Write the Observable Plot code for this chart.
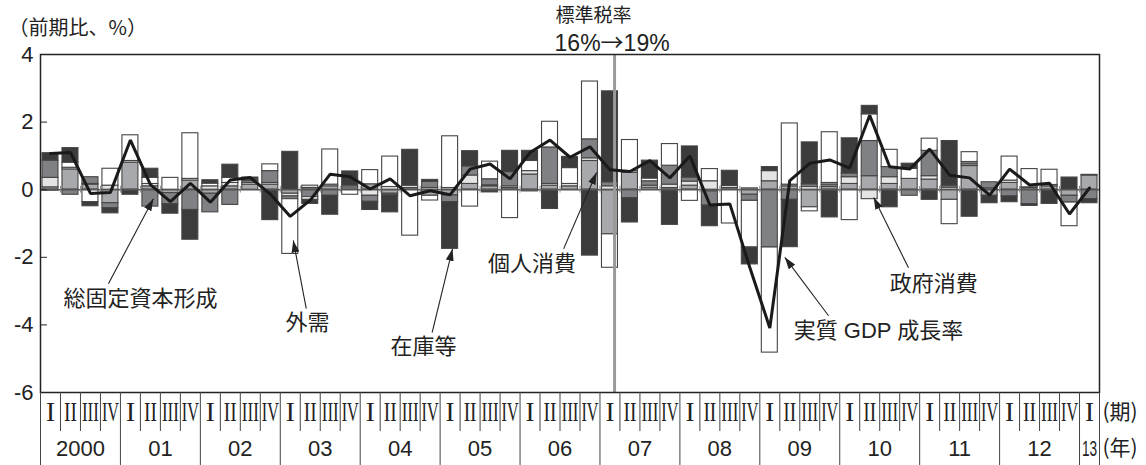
<!DOCTYPE html>
<html>
<head>
<meta charset="utf-8">
<script src="https://cdn.jsdelivr.net/npm/d3@7"></script>
<script src="https://cdn.jsdelivr.net/npm/@observablehq/plot@0.6"></script>
<style>
  html, body { margin: 0; padding: 0; background: #fff; }
</style>
</head>
<body>
<script>
// Real GDP growth (q/q, %) and contributions by demand component, 2000 Q1 – 2013 Q1
const years = ["2000", "01", "02", "03", "04", "05", "06", "07", "08", "09", "10", "11", "12", "13"];
const quarterLabels = ["I", "II", "III", "IV"];
const components = ["個人消費", "政府消費", "総固定資本形成", "外需", "在庫等"];
const componentColors = ["#a8a9ac", "#e4e4e4", "#808184", "#ffffff", "#3c3c3c"];

const privateConsumption = [
  0.07, 0.60, 0.15, -0.40, 0.80, 0.10, -0.10, 0.27, -0.12, 0.10, 0.15, 0.15, -0.12,
  0.05, 0.10, 0.07, 0.16, -0.12, 0.05, -0.18, -0.17, 0.17, 0.10, 0.05, 0.45, 0.12,
  0.10, 0.85, -1.32, 0.50, 0.06, 0.05, 0.12, -0.05, 0.05, -0.15, 0.25, 0.10, -0.52,
  0.08, 0.17, 0.40, 0.17, 0.32, 0.30, -0.30, 0.70, -0.18, 0.20, 0.05, 0.10, -0.18, 0.42
];
const governmentConsumption = [
  0.28, 0.05, 0.02, 0.12, 0.05, 0.07, 0.00, 0.05, 0.10, 0.10, 0.05, 0.05, -0.08,
  0.07, 0.05, 0.05, -0.18, 0.08, 0.07, 0.05, 0.05, 0.25, 0.03, 0.05, 0.10, 0.05,
  0.07, 0.08, 0.10, 0.05, 0.06, 0.10, 0.12, 0.25, 0.06, 0.04, 0.30, 0.05, 0.08,
  0.05, 0.20, -0.28, 0.20, 0.00, 0.10, 0.06, 0.05, 0.04, 0.07, 0.02, 0.04, 0.00, 0.02
];
const fixedInvestment = [
  0.51, -0.15, 0.20, -0.15, 0.00, -0.50, -0.33, -0.60, -0.55, -0.45, 0.06, 0.35, -0.08,
  -0.22, -0.18, 0.00, -0.18, -0.05, 0.00, 0.18, -0.20, 0.27, 0.18, 0.42, -0.05, 1.08,
  0.00, 0.56, 0.12, -0.25, 0.13, 0.56, 0.12, -0.42, 0.00, -0.18, -1.71, -0.30, 0.08,
  0.07, 0.11, 1.04, 0.30, -0.18, 0.75, 0.06, 0.07, 0.18, -0.20, -0.43, 0.00, -0.20, -0.28
];
const netExports = [
  -0.03, 0.15, -0.37, 0.50, 0.76, 0.18, 0.35, 1.35, 0.08, 0.15, 0.04, 0.20, -1.62,
  -0.08, 1.04, -0.15, 0.42, 0.90, -1.36, -0.14, 1.53, -0.50, 0.52, -0.84, 0.30, 0.76,
  0.47, 1.71, -0.99, 0.92, 0.08, 0.64, -0.33, 0.36, -1.00, -1.38, -3.11, 1.81, -0.12,
  1.50, -0.90, 0.79, 0.51, 0.30, 0.36, -0.72, 0.29, 0.00, 0.71, 0.54, 0.45, -0.70, 0.00
];
const inventories = [
  0.22, 0.43, -0.12, -0.15, -0.15, 0.27, -0.28, -0.88, 0.10, 0.39, 0.06, -0.90, 1.12,
  -0.12, -0.56, 0.42, -0.24, -0.50, 1.06, 0.06, -1.38, 0.45, -0.08, 0.63, 0.30, -0.57,
  0.33, -1.95, 2.69, -0.72, 0.53, -1.04, 0.92, -0.61, 0.45, -0.50, 0.12, -1.40, 1.24,
  -0.82, 1.04, 0.25, -0.52, 0.15, -0.30, 1.32, -0.80, -0.22, -0.17, -0.05, -0.42, 0.36, -0.12
];
const gdpGrowth = [
  1.07, 1.10, -0.11, -0.08, 1.47, 0.15, -0.35, 0.19, -0.37, 0.29, 0.36, -0.13, -0.79,
  -0.31, 0.46, 0.38, 0.02, 0.32, -0.18, -0.03, -0.15, 0.61, 0.76, 0.32, 1.10, 1.47,
  0.96, 1.27, 0.59, 0.54, 0.86, 0.35, 1.00, -0.45, -0.42, -2.30, -4.09, 0.27, 0.78,
  0.88, 0.64, 2.20, 0.68, 0.61, 1.20, 0.43, 0.35, -0.16, 0.61, 0.14, 0.19, -0.72, 0.05
];
const yTicks = [-6, -4, -2, 0, 2, 4];

// VAT change (standard rate 16% -> 19%), position on the quarter axis
const taxChange = {x: 28.73, title: "標準税率", rates: "16%→19%"};

// Callout labels: label position, line start, arrow tip (quarter axis / %)
const callouts = [
  {label: "総固定資本形成", lx: 5.0, ly: -3.22, tx: 3.4, ty: -2.78, hx: 5.65, hy: -0.27},
  {label: "外需", lx: 13.36, ly: -3.93, tx: 13.3, ty: -3.52, hx: 12.65, hy: -1.5},
  {label: "在庫等", lx: 19.17, ly: -4.64, tx: 19.6, ty: -4.23, hx: 20.62, hy: -1.75},
  {label: "個人消費", lx: 24.6, ly: -2.19, tx: 26.18, ty: -1.75, hx: 27.83, hy: 0.51},
  {label: "政府消費", lx: 44.7, ly: -2.78, tx: 43.44, ty: -2.31, hx: 41.7, hy: -0.23},
  {label: "実質 GDP 成長率", lx: 41.94, ly: -4.17, tx: 39.44, ty: -3.73, hx: 37.25, hy: -2.0}
];

const series = [privateConsumption, governmentConsumption, fixedInvestment, netExports, inventories];
const nQ = gdpGrowth.length;

const quarters = d3.range(nQ).map(i => ({i, q: quarterLabels[i % 4]}));
const stacked = [];
quarters.forEach(({i}) => {
  components.forEach((c, k) => {
    const v = series[k][i];
    if (v !== 0) stacked.push({i, component: c, value: v});
  });
});
const growth = quarters.map(({i}) => ({i, value: gdpGrowth[i]}));
const yearCells = years.map((label, k) => ({label, start: 4 * k, end: Math.min(4 * k + 4, nQ)}));
const yearBounds = [...yearCells.map(d => d.start), nQ];
const quarterBounds = d3.range(1, nQ).filter(b => b % 4 !== 0);

const font = "'Liberation Sans', 'Noto Sans CJK JP', sans-serif";
const cjk = "'Noto Sans CJK JP', sans-serif";
const serif = "'Liberation Serif', 'DejaVu Serif', serif";

const chart = Plot.plot({
  width: 1146,
  height: 465,
  marginLeft: 40,
  marginRight: 47,
  marginTop: 54,
  marginBottom: 73,
  style: {fontFamily: font, color: "#222", background: "#fff"},
  x: {type: "linear", domain: [0, nQ], axis: null},
  y: {domain: [-6, 4], axis: null},
  color: {domain: components, range: componentColors},
  marks: [
    // stacked contribution bars
    Plot.rectY(stacked, {
      x1: d => d.i, x2: d => d.i + 1, y: "value",
      fill: "component", order: components,
      stroke: "#454545", strokeWidth: 1.1,
      insetLeft: 2, insetRight: 2
    }),
    // zero line with quarter marks
    Plot.ruleY([0], {stroke: "#555", strokeWidth: 1.6}),
    Plot.ruleX(d3.range(1, nQ), {y1: -0.1, y2: 0.1, stroke: "#8a8a8a", strokeWidth: 1}),
    // VAT change marker
    Plot.ruleX([taxChange], {x: "x", y1: -6, y2: 4, stroke: "#9a9a9a", strokeWidth: 3}),
    Plot.text([taxChange], {
      x: "x", y: 4, text: "title", textAnchor: "start",
      dx: -59, dy: -39, fontSize: 19, fontFamily: cjk, fill: "#222"
    }),
    Plot.text([taxChange], {
      x: "x", y: 4, text: "rates", textAnchor: "start",
      dx: -60, dy: -11, fontSize: 23, fill: "#222"
    }),
    // GDP growth line
    Plot.line(growth, {x: d => d.i + 0.5, y: "value", stroke: "#1a1a1a", strokeWidth: 3, strokeLinejoin: "miter"}),
    // frame and y axis
    Plot.frame({stroke: "#222", strokeWidth: 1.5}),
    Plot.axisY(yTicks, {
      anchor: "left", tickSize: -7, tickPadding: 14,
      tickFormat: d => String(d), fontSize: 22, label: null
    }),
    Plot.text(["（前期比、%）"], {
      frameAnchor: "top-left", textAnchor: "start",
      dx: -32, dy: -34, fontSize: 20, fontFamily: cjk, fill: "#222"
    }),
    // quarter / year table under the plot
    Plot.ruleX(quarterBounds, {x: d => d, y1: -6, y2: -6, insetBottom: -39, stroke: "#444", strokeWidth: 1}),
    Plot.ruleX(yearBounds, {x: d => d, y1: -6, y2: -6, insetBottom: -73, stroke: "#444", strokeWidth: 1}),
    Plot.text(quarters, {
      x: d => d.i + 0.5, y: -6, dy: 20, text: "q",
      fontSize: 27, fontFamily: serif, fill: "#222"
    }),
    Plot.text(yearCells, {
      x: d => (d.start + d.end) / 2, y: -6, dy: 56, text: "label",
      fontSize: 22, fill: "#222"
    }),
    Plot.text(["(期)"], {
      x: nQ, y: -6, dx: 3, dy: 20,
      text: d => d, textAnchor: "start", fontSize: 21, fontFamily: cjk, fill: "#222"
    }),
    Plot.text(["(年)"], {
      x: nQ, y: -6, dx: 3, dy: 56,
      text: d => d, textAnchor: "start", fontSize: 21, fontFamily: cjk, fill: "#222"
    }),
    // callouts
    Plot.link(callouts, {x1: "tx", y1: "ty", x2: "hx", y2: "hy", stroke: "#222", strokeWidth: 1.1}),
    Plot.text(callouts, {x: "lx", y: "ly", text: "label", fontSize: 22, fill: "#222"})
  ]
});

// filled arrowheads on the callout lines
const svg = d3.select(chart);
svg.insert("defs", ":first-child")
  .append("marker")
  .attr("id", "callout-head")
  .attr("viewBox", "0 0 12 8")
  .attr("refX", 12).attr("refY", 4)
  .attr("markerWidth", 12).attr("markerHeight", 8)
  .attr("markerUnits", "userSpaceOnUse")
  .attr("orient", "auto")
  .append("path")
  .attr("d", "M0,0L12,4L0,8Z")
  .attr("fill", "#222");
svg.selectAll('g[aria-label="link"] path').attr("marker-end", "url(#callout-head)");

// horizontally condensed labels for the narrow table cells
const condensed = {"II": 0.72, "III": 0.63, "IV": 0.6, "13": 0.62};
svg.selectAll("text").each(function () {
  const s = condensed[this.textContent];
  if (!s) return;
  const t = this.getAttribute("transform");
  if (t) {
    this.setAttribute("transform", `${t} scale(${s},1)`);
  } else {
    const x = +this.getAttribute("x") || 0;
    this.setAttribute("transform", `translate(${x},0) scale(${s},1) translate(${-x},0)`);
  }
});

// the arrow in the rate label uses the CJK glyph
svg.selectAll("text").filter(function () { return this.textContent === taxChange.rates; })
  .each(function () {
    const t = d3.select(this).text(null);
    t.append("tspan").text("16%");
    t.append("tspan").style("font-family", cjk).text("→");
    t.append("tspan").text("19%");
  });

document.body.appendChild(chart);
</script>
</body>
</html>
